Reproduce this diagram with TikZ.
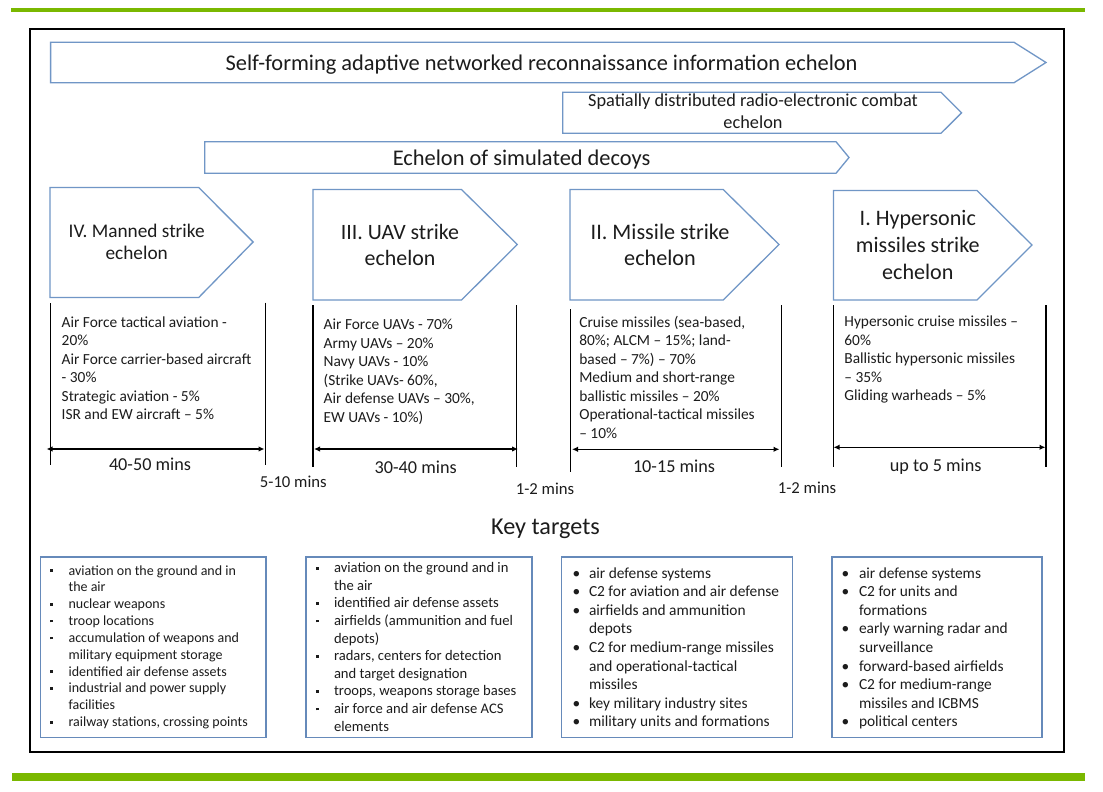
\documentclass[tikz,border=0pt]{standalone}
\usepackage{fontspec}
\setmainfont{Carlito}
\usetikzlibrary{arrows.meta}
\definecolor{barg}{RGB}{122,184,0}
\definecolor{echb}{RGB}{112,150,198}
\definecolor{boxb}{RGB}{102,138,186}
\definecolor{txt}{RGB}{28,28,28}
\newcommand{\myfs}[2]{\fontsize{#1pt}{#2pt}\selectfont}
\newcommand{\sqb}{\raisebox{0.22em}{\rule{2.6pt}{2.6pt}}}
\newcommand{\rdb}{•}
\newcommand{\bl}[2]{\makebox[#1][l]{#2}}
\tikzset{
  echelon/.style={draw=echb, line width=1.3pt, fill=white},
  tbox/.style={draw=boxb, line width=1.6pt},
  tick/.style={line width=1.5pt, black},
  span/.style={line width=1.5pt, black, {Latex[length=6pt,width=5.5pt]}-{Latex[length=6pt,width=5.5pt]}},
  lbl/.style={inner sep=0pt, outer sep=0pt, text=txt},
}
\begin{document}
\begin{tikzpicture}[x=1pt,y=-1pt]
\useasboundingbox (0,0) rectangle (1103,792);
\fill[white] (0,0) rectangle (1103,792);
% green bars
\fill[barg] (11,8.3) rectangle (1085,12);
\fill[barg] (12,773) rectangle (1085,780.7);
% frame
\draw[black, line width=2pt] (29.7,29) rectangle (1064,751.7);

% top echelons
\draw[echelon] (50.6,42.3) -- (1014,42.3) -- (1046,62.5) -- (1014,82.7) -- (50.6,82.7) -- cycle;
\node[lbl, anchor=base, font=\myfs{22.4}{26}] (recon) at (541.6,70.7) {Self-forming adaptive networked reconnaissance information echelon};
\draw[echelon] (562.7,92.3) -- (941,92.3) -- (961.6,112.8) -- (941,133.3) -- (562.7,133.3) -- cycle;
\node[lbl, anchor=north, font=\myfs{18.3}{22.6}] (radio) at (753,90.2) {\begin{tabular}{@{}c@{}}Spatially distributed radio-electronic combat\\echelon\end{tabular}};
\draw[echelon] (204.7,141.7) -- (836,141.7) -- (849,157.5) -- (836,173.3) -- (204.7,173.3) -- cycle;
\node[lbl, anchor=base, font=\myfs{22.4}{26}] (decoy) at (521.6,165) {Echelon of simulated decoys};

% strike echelons
\draw[echelon] (50,187.5) -- (198.7,187.5) -- (253.1,242) -- (198.7,297.5) -- (50,297.5) -- cycle;
\node[lbl, anchor=north, font=\myfs{19.3}{22.3}] (e4) at (136.7,221.9) {\begin{tabular}{@{}c@{}}IV. Manned strike\\echelon\end{tabular}};
\draw[echelon] (313,189.5) -- (461.5,189.5) -- (517.3,244.5) -- (461.5,300) -- (313,300) -- cycle;
\node[lbl, anchor=north, font=\myfs{21.9}{26.3}] (e3) at (400,220.9) {\begin{tabular}{@{}c@{}}III. UAV strike\\echelon\end{tabular}};
\draw[echelon] (570,189.5) -- (723.2,189.5) -- (779,244.5) -- (723.2,300) -- (570,300) -- cycle;
\node[lbl, anchor=north, font=\myfs{22.2}{26.3}] (e2) at (660,221) {\begin{tabular}{@{}c@{}}II. Missile strike\\echelon\end{tabular}};
\draw[echelon] (833.4,190.5) -- (977,190.5) -- (1032,245) -- (977,300) -- (833.4,300) -- cycle;
\node[lbl, anchor=north, font=\myfs{22.1}{26.7}] (e1) at (917.8,207.2) {\begin{tabular}{@{}c@{}}I. Hypersonic\\missiles strike\\echelon\end{tabular}};

% force composition texts
\node[lbl, anchor=north west, font=\myfs{15.4}{18.5}] (c4) at (61.7,314.5) {\begin{tabular}{@{}l@{}}Air Force tactical aviation -\\20\%\\Air Force carrier-based aircraft\\- 30\%\\Strategic aviation - 5\%\\ISR and EW aircraft – 5\%\end{tabular}};
\node[lbl, anchor=north west, font=\myfs{15.4}{18.5}] (c3) at (323.7,317) {\begin{tabular}{@{}l@{}}Air Force UAVs - 70\%\\Army UAVs – 20\%\\Navy UAVs - 10\%\\(Strike UAVs- 60\%,\\Air defense UAVs – 30\%,\\EW UAVs - 10\%)\end{tabular}};
\node[lbl, anchor=north west, font=\myfs{15.4}{18.5}] (c2) at (579.3,314.4) {\begin{tabular}{@{}l@{}}Cruise missiles (sea-based,\\80\%; ALCM – 15\%; land-\\based – 7\%) – 70\%\\Medium and short-range\\ballistic missiles – 20\%\\Operational-tactical missiles\\– 10\%\end{tabular}};
\node[lbl, anchor=north west, font=\myfs{15.4}{18.5}] (c1) at (844.4,313.8) {\begin{tabular}{@{}l@{}}Hypersonic cruise missiles –\\60\%\\Ballistic hypersonic missiles\\– 35\%\\Gliding warheads – 5\%\end{tabular}};

% timelines
\coordinate (v4a) at (50.7,303.3); \coordinate (v4ab) at (50.7,465);
\coordinate (v4b) at (265.7,302.7); \coordinate (v4bb) at (265.7,465);
\coordinate (v3a) at (313,305); \coordinate (v3ab) at (313,467);
\coordinate (v3b) at (516.6,305); \coordinate (v3bb) at (516.6,467);
\coordinate (v2a) at (570.7,309.3); \coordinate (v2ab) at (570.7,471.7);
\coordinate (v2b) at (781.4,305); \coordinate (v2bb) at (781.4,467.3);
\coordinate (v1a) at (833.4,305); \coordinate (v1ab) at (833.4,467.3);
\coordinate (v1b) at (1045.9,305); \coordinate (v1bb) at (1045.9,467.3);
\foreach \p in {v4a,v4b,v3a,v3b,v2a,v2b,v1a,v1b} {\draw[tick] (\p) -- (\p b);}
\coordinate (s4l) at (46.5,449); \coordinate (s4r) at (264.5,449);
\coordinate (s3l) at (314,449); \coordinate (s3r) at (518,449);
\coordinate (s2l) at (572,449.3); \coordinate (s2r) at (779.5,449.3);
\coordinate (s1l) at (833.5,447.3); \coordinate (s1r) at (1045.5,447.3);
\draw[span] (s4l) -- (s4r);
\draw[span] (s3l) -- (s3r);
\draw[span] (s2l) -- (s2r);
\draw[span] (s1l) -- (s1r);
\node[lbl, anchor=base, font=\myfs{18.2}{22}] (d4) at (150,470) {40-50 mins};
\node[lbl, anchor=base, font=\myfs{18.2}{22}] (d3) at (415.7,473) {30-40 mins};
\node[lbl, anchor=base, font=\myfs{18.2}{22}] (d2) at (674,472) {10-15 mins};
\node[lbl, anchor=base, font=\myfs{18.2}{22}] (d1) at (935.7,471) {up to 5 mins};
\node[lbl, anchor=base, font=\myfs{16.7}{20}] (g43) at (293.3,487.3) {5-10 mins};
\node[lbl, anchor=base, font=\myfs{16.7}{20}] (g32) at (545,494) {1-2 mins};
\node[lbl, anchor=base, font=\myfs{16.7}{20}] (g21) at (807,493) {1-2 mins};

% key targets
\node[lbl, anchor=base, font=\myfs{24.2}{28}] (key) at (545.5,534.3) {Key targets};
\draw[tbox] (40.3,556.7) rectangle (265.7,737.3);
\draw[tbox] (306.2,556.7) rectangle (531.7,737.3);
\draw[tbox] (561.6,556.7) rectangle (792.5,737.3);
\draw[tbox] (831.8,556.7) rectangle (1042,737.3);

\node[lbl, anchor=north west, font=\myfs{14}{16.85}] (k4) at (50.4,563.2) {\begin{tabular}{@{}l@{}l@{}}
\bl{18.2pt}{\sqb} & aviation on the ground and in\\
 & the air\\
\bl{18.2pt}{\sqb} & nuclear weapons\\
\bl{18.2pt}{\sqb} & troop locations\\
\bl{18.2pt}{\sqb} & accumulation of weapons and\\
 & military equipment storage\\
\bl{18.2pt}{\sqb} & identified air defense assets\\
\bl{18.2pt}{\sqb} & industrial and power supply\\
 & facilities\\
\bl{18.2pt}{\sqb} & railway stations, crossing points
\end{tabular}};
\node[lbl, anchor=north west, font=\myfs{14.6}{17.6}] (k3) at (316.2,560.4) {\begin{tabular}{@{}l@{}l@{}}
\bl{17.8pt}{\sqb} & aviation on the ground and in\\
 & the air\\
\bl{17.8pt}{\sqb} & identified air defense assets\\
\bl{17.8pt}{\sqb} & airfields (ammunition and fuel\\
 & depots)\\
\bl{17.8pt}{\sqb} & radars, centers for detection\\
 & and target designation\\
\bl{17.8pt}{\sqb} & troops, weapons storage bases\\
\bl{17.8pt}{\sqb} & air force and air defense ACS\\
 & elements
\end{tabular}};
\node[lbl, anchor=north west, font=\myfs{15.4}{18.55}] (k2) at (572.5,565.3) {\begin{tabular}{@{}l@{}l@{}}
\bl{16.5pt}{\rdb} & air defense systems\\
\bl{16.5pt}{\rdb} & C2 for aviation and air defense\\
\bl{16.5pt}{\rdb} & airfields and ammunition\\
 & depots\\
\bl{16.5pt}{\rdb} & C2 for medium-range missiles\\
 & and operational-tactical\\
 & missiles\\
\bl{16.5pt}{\rdb} & key military industry sites\\
\bl{16.5pt}{\rdb} & military units and formations
\end{tabular}};
\node[lbl, anchor=north west, font=\myfs{15.4}{18.55}] (k1) at (841.5,565.3) {\begin{tabular}{@{}l@{}l@{}}
\bl{17.5pt}{\rdb} & air defense systems\\
\bl{17.5pt}{\rdb} & C2 for units and\\
 & formations\\
\bl{17.5pt}{\rdb} & early warning radar and\\
 & surveillance\\
\bl{17.5pt}{\rdb} & forward-based airfields\\
\bl{17.5pt}{\rdb} & C2 for medium-range\\
 & missiles and ICBMS\\
\bl{17.5pt}{\rdb} & political centers
\end{tabular}};
\end{tikzpicture}
\end{document}
